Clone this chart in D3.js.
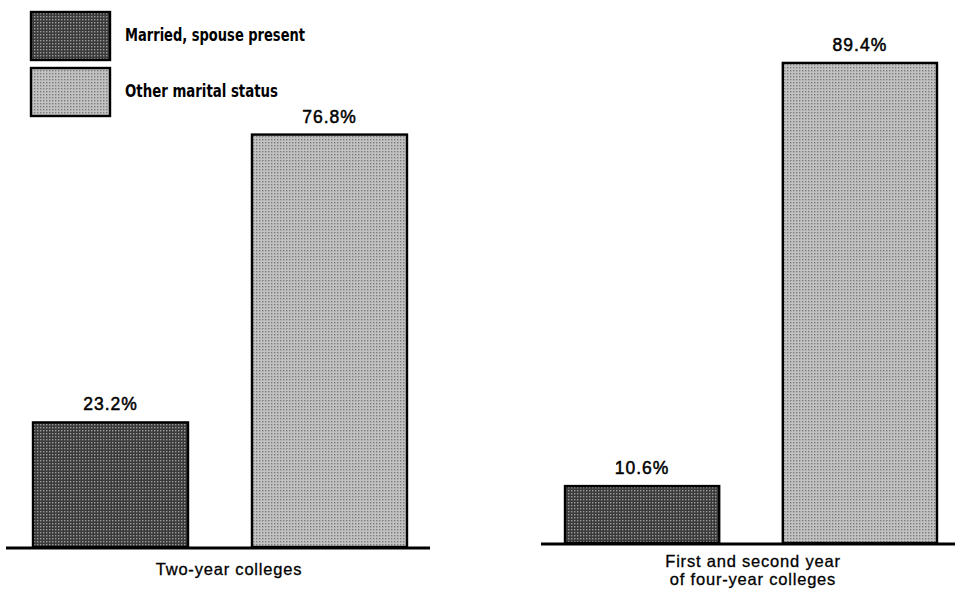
<!DOCTYPE html>
<html>
<head>
<meta charset="utf-8">
<script src="https://cdn.jsdelivr.net/npm/d3@7/dist/d3.min.js"></script>
<style>
  html, body { margin: 0; padding: 0; background: #fff; }
  svg { display: block; }
</style>
</head>
<body>
<svg id="chart" width="955" height="596"></svg>
<script>
// Share of enrolled students by marital status, by type of college
const categories = ["Two-year colleges", "First and second year\nof four-year colleges"];
const seriesNames = ["Married, spouse present", "Other marital status"];
const marriedValues = [23.2, 10.6];
const otherValues = [76.8, 89.4];

const svg = d3.select("#chart");
const defs = svg.append("defs");

// Halftone-like screens for the two shades
function screen(id, base, dot) {
  const size = 3;
  const p = defs.append("pattern")
    .attr("id", id).attr("patternUnits", "userSpaceOnUse")
    .attr("width", size).attr("height", size);
  p.append("rect").attr("width", size).attr("height", size).attr("fill", base);
  p.append("rect").attr("x", 1).attr("y", 1).attr("width", 1.4).attr("height", 1.4).attr("fill", dot);
}
screen("darkScreen", "#3a3a3a", "#9c9c9c");
screen("lightScreen", "#c2c2c2", "#7c7c7c");
const fills = ["url(#darkScreen)", "url(#lightScreen)"];

const pxPerPct = 5.37;
const panels = [
  { baseline: 547, xRange: [33, 407], line: [6, 430], labelX: 229, labelY: 575 },
  { baseline: 543, xRange: [565, 937], line: [541, 955], labelX: 753, labelY: 567 }
];

const valueFont = "'Liberation Sans', Arial, Helvetica, sans-serif";

categories.forEach((cat, i) => {
  const pnl = panels[i];
  const values = [marriedValues[i], otherValues[i]];
  const x = d3.scaleBand().domain(seriesNames).range(pnl.xRange)
    .paddingInner(0.292).paddingOuter(0);
  const y = d3.scaleLinear().domain([0, 100])
    .range([pnl.baseline, pnl.baseline - 100 * pxPerPct]);

  const g = svg.append("g");

  g.selectAll("rect.bar")
    .data(seriesNames.map((s, j) => ({ s, v: values[j], j })))
    .join("rect")
    .attr("class", "bar")
    .attr("x", d => x(d.s))
    .attr("y", d => y(d.v))
    .attr("width", x.bandwidth())
    .attr("height", d => y(0) - y(d.v))
    .attr("fill", d => fills[d.j])
    .attr("stroke", "#000")
    .attr("stroke-width", 2.4);

  g.selectAll("text.val")
    .data(seriesNames.map((s, j) => ({ s, v: values[j] })))
    .join("text")
    .attr("class", "val")
    .attr("x", d => x(d.s) + x.bandwidth() / 2)
    .attr("y", d => y(d.v) - 12)
    .attr("text-anchor", "middle")
    .attr("font-family", valueFont)
    .attr("font-size", 17.5)
    .attr("letter-spacing", 1)
    .attr("stroke", "#000")
    .attr("stroke-width", 0.5)
    .attr("fill", "#000")
    .text(d => d.v.toFixed(1) + "%");

  // baseline
  g.append("line")
    .attr("x1", pnl.line[0]).attr("x2", pnl.line[1])
    .attr("y1", y(0) + 1).attr("y2", y(0) + 1)
    .attr("stroke", "#000").attr("stroke-width", 3);

  // category label, one text element per line
  cat.split("\n").forEach((ln, k) => {
    g.append("text")
      .attr("x", pnl.labelX)
      .attr("y", pnl.labelY + k * 18)
      .attr("text-anchor", "middle")
      .attr("font-family", valueFont)
      .attr("font-size", 16.5)
      .attr("letter-spacing", 0.8)
      .attr("stroke", "#000")
      .attr("stroke-width", 0.3)
      .attr("fill", "#000")
      .text(ln);
  });
});

// legend
const legend = svg.append("g");
const legendWidths = [180, 153];
seriesNames.forEach((s, j) => {
  const top = 12 + j * 56;
  legend.append("rect")
    .attr("x", 31).attr("y", top)
    .attr("width", 79).attr("height", 48)
    .attr("fill", fills[j])
    .attr("stroke", "#000").attr("stroke-width", 2.4);
  legend.append("text")
    .attr("x", 125).attr("y", top + 29)
    .attr("font-family", "'DejaVu Sans Condensed', 'Liberation Sans Narrow', sans-serif")
    .attr("font-weight", "bold")
    .attr("font-size", 18)
    .attr("textLength", legendWidths[j])
    .attr("lengthAdjust", "spacingAndGlyphs")
    .attr("fill", "#000")
    .text(s);
});
</script>
</body>
</html>
